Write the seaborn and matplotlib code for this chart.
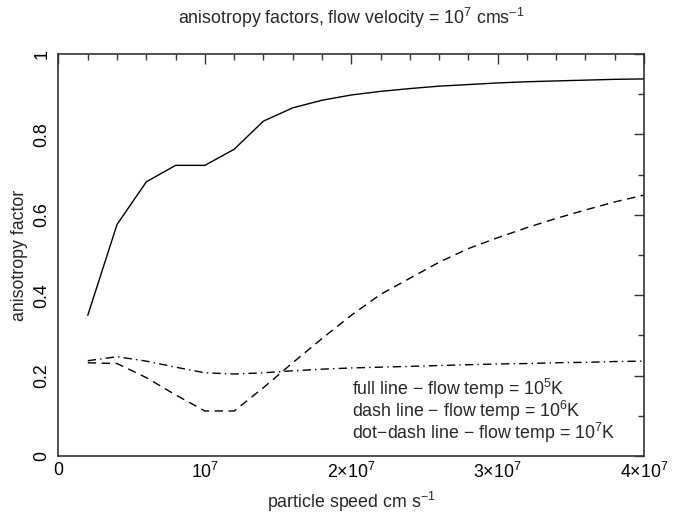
import numpy as np
import pandas as pd
import matplotlib
matplotlib.use("Agg")
import matplotlib.pyplot as plt
from matplotlib.ticker import MultipleLocator, FixedLocator, FixedFormatter
import seaborn as sns

# particle speed grid (cm/s)
speed = [2e6, 4e6, 6e6, 8e6, 1.0e7, 1.2e7, 1.4e7, 1.6e7, 1.8e7, 2.0e7,
         2.2e7, 2.4e7, 2.6e7, 2.8e7, 3.0e7, 3.2e7, 3.4e7, 3.6e7, 3.8e7, 4.0e7]

# anisotropy factor for three flow temperatures
aniso_1e5K = [0.350, 0.576, 0.682, 0.723, 0.723, 0.763, 0.833, 0.866, 0.885, 0.898,
              0.907, 0.914, 0.920, 0.924, 0.928, 0.931, 0.933, 0.935, 0.937, 0.938]
aniso_1e6K = [0.232, 0.230, 0.195, 0.152, 0.112, 0.112, 0.170, 0.232, 0.292, 0.350,
              0.402, 0.442, 0.482, 0.516, 0.543, 0.568, 0.591, 0.612, 0.632, 0.649]
aniso_1e7K = [0.237, 0.247, 0.236, 0.221, 0.207, 0.204, 0.207, 0.212, 0.216, 0.219,
              0.221, 0.223, 0.225, 0.227, 0.229, 0.230, 0.232, 0.233, 0.235, 0.236]

xtick_values = [0, 1e7, 2e7, 3e7, 4e7]
xtick_labels = ["0", r"$10^{7}$", r"$2{\times}10^{7}$", r"$3{\times}10^{7}$", r"$4{\times}10^{7}$"]
ytick_values = [0, 0.2, 0.4, 0.6, 0.8, 1.0]
ytick_labels = ["0", "0.2", "0.4", "0.6", "0.8", "1"]

legend_lines = [r"full line $-$ flow temp = $10^{5}$K",
                r"dash line $-$ flow temp = $10^{6}$K",
                r"dot$-$dash line $-$ flow temp = $10^{7}$K"]

FS = 12.8

sns.set_theme(style="white")
plt.rcParams["font.family"] = ["Liberation Sans", "DejaVu Sans"]
plt.rcParams["mathtext.fontset"] = "custom"
plt.rcParams["mathtext.rm"] = "Liberation Sans"
plt.rcParams["mathtext.default"] = "regular"

df = pd.DataFrame({"speed": speed, "t5": aniso_1e5K, "t6": aniso_1e6K, "t7": aniso_1e7K})

fig = plt.figure(figsize=(6.82, 5.14), dpi=100)
ax = fig.add_axes([58.5 / 682, 1 - 456 / 514, 585.5 / 682, 402 / 514])

sns.lineplot(data=df, x="speed", y="t5", ax=ax, color="black", lw=1.0,
             linestyle="-")
sns.lineplot(data=df, x="speed", y="t6", ax=ax, color="black", lw=1.0,
             linestyle=(0, (6, 4)))
sns.lineplot(data=df, x="speed", y="t7", ax=ax, color="black", lw=1.0,
             linestyle=(0, (6, 3, 1, 3)))

ax.set_xlim(0, 4e7)
ax.set_ylim(0, 1)

ax.xaxis.set_major_locator(FixedLocator(xtick_values))
ax.xaxis.set_major_formatter(FixedFormatter(xtick_labels))
ax.xaxis.set_minor_locator(MultipleLocator(2e6))
ax.yaxis.set_major_locator(FixedLocator(ytick_values))
ax.yaxis.set_major_formatter(FixedFormatter(ytick_labels))
ax.yaxis.set_minor_locator(MultipleLocator(0.1))

ax.tick_params(which="both", direction="in", top=True, right=True,
               color="#333333", width=1.0, labelsize=FS, labelcolor="black")
ax.tick_params(which="major", length=7)
ax.tick_params(which="minor", length=4)
ax.tick_params(axis="x", pad=4)
ax.tick_params(axis="y", labelrotation=90, pad=6)
for lab in ax.get_yticklabels():
    lab.set_va("center")

for sp in ax.spines.values():
    sp.set_visible(True)
    sp.set_color("#333333")
    sp.set_linewidth(1.2)

ax.set_xlabel(r"particle speed cm s$^{-1}$", fontsize=FS, labelpad=6)
ax.set_ylabel("anisotropy factor", fontsize=FS, labelpad=4)
fig.suptitle(r"anisotropy factors, flow velocity = $10^{7}$ cms$^{-1}$",
             fontsize=FS, x=351 / 682, y=1 - 6 / 514, va="top")

# three-line key in the lower right of the panel
ax.text((352 - 58.5) / 585.5, (456 - 411) / 402, "\n".join(legend_lines),
        transform=ax.transAxes, fontsize=FS, va="center", ha="left",
        linespacing=0.9)

fig.savefig("out.png", dpi=100, facecolor="white")
